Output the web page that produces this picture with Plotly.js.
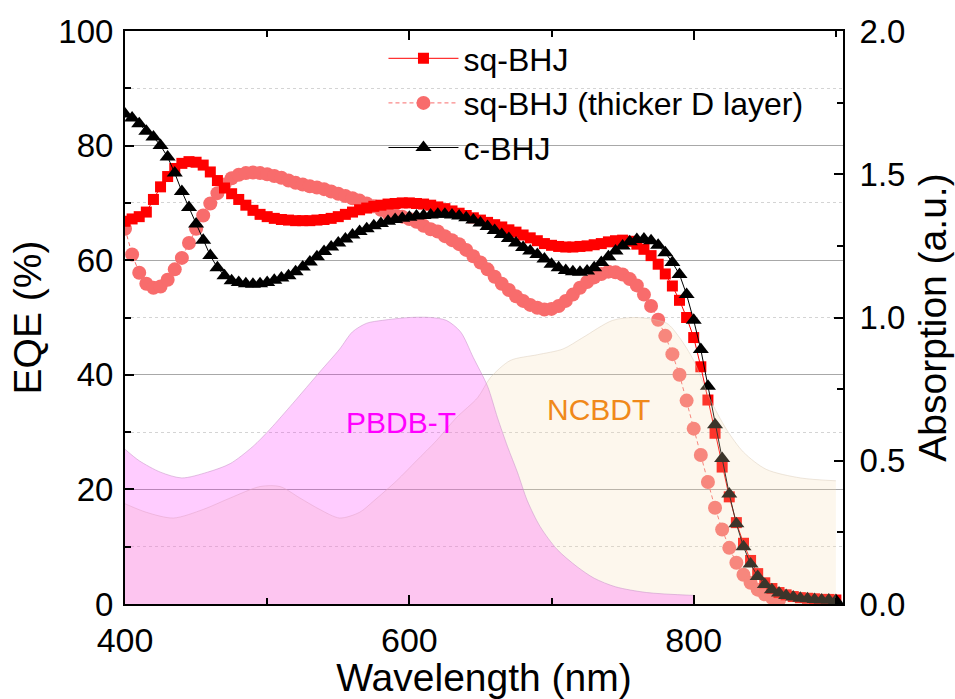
<!DOCTYPE html>
<html><head><meta charset="utf-8">
<script src="https://cdn.plot.ly/plotly-3.0.1.min.js"></script>
<style>html,body{margin:0;padding:0;background:#fff}#chart{width:955px;height:699px}</style>
</head><body><div id="chart"></div><script>
const wavelength = [400,405,410,415,420,425,430,435,440,445,450,455,460,465,470,475,480,485,490,495,500,505,510,515,520,525,530,535,540,545,550,555,560,565,570,575,580,585,590,595,600,605,610,615,620,625,630,635,640,645,650,655,660,665,670,675,680,685,690,695,700,705,710,715,720,725,730,735,740,745,750,755,760,765,770,775,780,785,790,795,800,805,810,815,820,825,830,835,840,845,850,855,860,865,870,875,880,885,890,895,900];
const eqeSq = [66.8,67.2,67.6,68.4,70.6,72.8,74.6,76.0,76.9,77.2,77.1,76.6,75.4,73.9,72.6,71.6,70.6,69.6,68.7,68.0,67.6,67.3,67.1,67.0,66.9,66.9,66.9,67.0,67.1,67.3,67.6,68.0,68.4,68.8,69.1,69.4,69.6,69.8,69.9,70.0,70.0,69.9,69.8,69.6,69.3,69.0,68.6,68.2,67.8,67.4,67.0,66.6,66.2,65.8,65.3,64.9,64.4,63.9,63.4,62.9,62.6,62.4,62.3,62.3,62.4,62.5,62.7,62.9,63.2,63.4,63.5,63.3,62.8,61.9,60.8,59.3,57.6,55.5,53.0,50.0,46.5,41.4,35.6,29.8,23.9,18.7,14.2,10.6,7.6,5.3,3.7,2.7,2.0,1.6,1.3,1.1,1.0,0.9,0.8,0.8,0.7];
const wavelengthThick = [400,405,410,415,420,425,430,435,440,445,450,455,460,465,470,475,480,485,490,495,500,505,510,515,520,525,530,535,540,545,550,555,560,565,570,575,580,585,590,595,600,605,610,615,620,625,630,635,640,645,650,655,660,665,670,675,680,685,690,695,700,705,710,715,720,725,730,735,740,745,750,755,760,765,770,775,780,785,790,795,800,805,810,815,820,825,830,835,840,845,850,855,860];
const eqeThick = [65.5,61.0,57.8,55.9,55.2,55.4,56.6,58.4,60.4,63.0,65.5,67.8,69.9,71.7,73.2,74.3,74.9,75.2,75.3,75.2,75.0,74.7,74.4,73.9,73.5,73.2,72.9,72.7,72.4,72.0,71.6,71.2,70.8,70.4,69.9,69.4,68.8,68.2,67.9,67.6,67.2,66.7,66.0,65.4,65.0,64.2,63.5,62.8,61.8,60.7,59.6,58.4,57.1,55.9,54.8,53.7,52.9,52.2,51.7,51.4,51.5,52.0,52.9,54.0,55.2,56.2,57.0,57.6,58.0,57.9,57.5,56.7,55.6,54.0,52.0,49.6,46.8,43.6,40.0,35.5,30.6,26.0,21.3,16.8,13.0,9.8,7.2,5.1,3.7,2.5,1.7,1.1,0.7];
const eqeC = [85.5,84.8,83.8,82.5,81.5,80.0,78.0,75.2,72.0,69.2,66.3,63.5,60.8,58.7,57.3,56.4,56.1,55.9,55.8,55.9,56.1,56.5,56.9,57.3,58.0,58.8,59.7,60.6,61.5,62.3,63.0,63.7,64.4,65.0,65.5,66.0,66.4,66.8,67.1,67.3,67.5,67.7,67.8,67.9,68.0,68.0,67.9,67.7,67.4,67.0,66.5,65.9,65.2,64.5,63.8,63.0,62.2,61.6,61.0,60.2,59.3,58.7,58.2,58.0,57.9,58.1,58.7,59.6,60.6,61.6,62.5,63.2,63.6,63.7,63.4,62.6,61.3,59.6,57.5,54.0,49.5,44.4,38.0,31.3,25.4,19.2,14.0,10.0,7.0,4.8,3.4,2.5,1.9,1.5,1.2,1.0,0.9,0.8,0.7,0.7,0.6];
const wlPBDBT = [400,410,425,440,458,474,490,502,518,537,551,560,570,581,600,615,626,636,645,655,662,669,676,683,692,704,718,730,745,767,800];
const absPBDBT = [0.54,0.50,0.46,0.44,0.46,0.49,0.55,0.61,0.70,0.81,0.89,0.95,0.98,0.99,1.0,1.0,0.99,0.95,0.86,0.76,0.65,0.55,0.46,0.36,0.27,0.19,0.13,0.09,0.06,0.04,0.03];
const wlNCBDT = [400,415,434,455,474,495,509,523,537,551,565,575,591,605,619,633,648,657,671,690,708,722,743,760,781,790,800,811,823,835,851,875,900];
const absNCBDT = [0.35,0.32,0.30,0.33,0.37,0.41,0.41,0.37,0.33,0.30,0.32,0.36,0.43,0.50,0.57,0.65,0.72,0.79,0.85,0.87,0.89,0.93,0.99,1.0,0.98,0.93,0.85,0.72,0.61,0.53,0.47,0.44,0.43];
const seriesNames = ['sq-BHJ','sq-BHJ (thicker D layer)','c-BHJ'];
const fillLabels = ['PBDB-T','NCBDT'];

const FONT = 'Liberation Sans, Arial, sans-serif';
const traces = [
  {x: wlNCBDT, y: absNCBDT, yaxis:'y2', type:'scatter', mode:'lines', fill:'tozeroy',
   fillcolor:'rgba(245,222,179,0.24)', line:{color:'rgba(215,200,180,0.45)', width:1, shape:'spline', smoothing:0.8}, showlegend:false, hoverinfo:'skip'},
  {x: wlPBDBT, y: absPBDBT, yaxis:'y2', type:'scatter', mode:'lines', fill:'tozeroy',
   fillcolor:'rgba(255,0,255,0.2)', line:{color:'rgba(200,150,200,0.55)', width:1, shape:'spline', smoothing:0.8}, showlegend:false, hoverinfo:'skip'},
  {x: wavelengthThick, y: eqeThick, name: seriesNames[1], legendrank:2, type:'scatter', mode:'lines+markers',
   line:{color:'#f86c6c', width:1, dash:'4px,3px'}, marker:{symbol:'circle', size:14, color:'#f86c6c'}},
  {x: wavelength, y: eqeSq, name: seriesNames[0], legendrank:1, type:'scatter', mode:'lines+markers',
   line:{color:'#ff0000', width:1}, marker:{symbol:'square', size:11, color:'#ff0000'}},
  {x: wavelength, y: eqeC, name: seriesNames[2], legendrank:3, type:'scatter', mode:'lines+markers',
   line:{color:'#000000', width:1}, marker:{symbol:'triangle-up', size:14, color:'#000000'}}
];
const layout = {
  width:955, height:699,
  margin:{l:125, r:112, t:31, b:95},
  paper_bgcolor:'#fff', plot_bgcolor:'#fff',
  font:{family:FONT, color:'#000'},
  showlegend:true,
  legend:{x:0.36, y:1.0, xanchor:'left', yanchor:'top', bgcolor:'rgba(0,0,0,0)', font:{size:32, family:FONT}, itemwidth:70, tracegroupgap:0},
  hovermode:false,
  xaxis:{range:[400,905], tick0:400, dtick:200, ticks:'inside', ticklen:9, tickwidth:2, tickcolor:'#000',
    showline:true, linewidth:2, linecolor:'#000', mirror:'ticks', showgrid:false, zeroline:false,
    minor:{dtick:100, ticks:'inside', ticklen:6, tickwidth:2, tickcolor:'#000'},
    ticklabelstandoff:5,
    tickfont:{size:34}, title:{text:'Wavelength (nm)', font:{size:39}, standoff:2}},
  yaxis:{range:[0,100], dtick:20, ticks:'inside', ticklen:9, tickwidth:2, tickcolor:'#000',
    showline:true, linewidth:2, linecolor:'#000', showgrid:true, gridcolor:'#a8a8a8', gridwidth:1, zeroline:false,
    minor:{dtick:10, ticks:'inside', ticklen:6, tickwidth:2, tickcolor:'#000', showgrid:true, gridcolor:'#d4d4d4', griddash:'dot'},
    ticklabelstandoff:3,
    tickfont:{size:33}, title:{text:'EQE (%)', font:{size:39}, standoff:5}},
  yaxis2:{overlaying:'y', side:'right', range:[0,2], dtick:0.5, tickformat:'.1f', ticks:'inside', ticklen:9, tickwidth:2, tickcolor:'#000',
    showline:true, linewidth:2, linecolor:'#000', showgrid:false, zeroline:false,
    minor:{dtick:0.25, ticks:'inside', ticklen:6, tickwidth:2, tickcolor:'#000'},
    ticklabelstandoff:8,
    tickfont:{size:33}, title:{text:'Absorption (a.u.)', font:{size:39}, standoff:14}},
  annotations:[
    {x:594, y:31.6, xref:'x', yref:'y', text:fillLabels[0], showarrow:false, font:{size:30, color:'#ff00ff'}},
    {x:733, y:33.9, xref:'x', yref:'y', text:fillLabels[1], showarrow:false, font:{size:30, color:'#f0891a'}}
  ]
};
Plotly.newPlot('chart', traces, layout, {displayModeBar:false, staticPlot:true});
</script></body></html>
